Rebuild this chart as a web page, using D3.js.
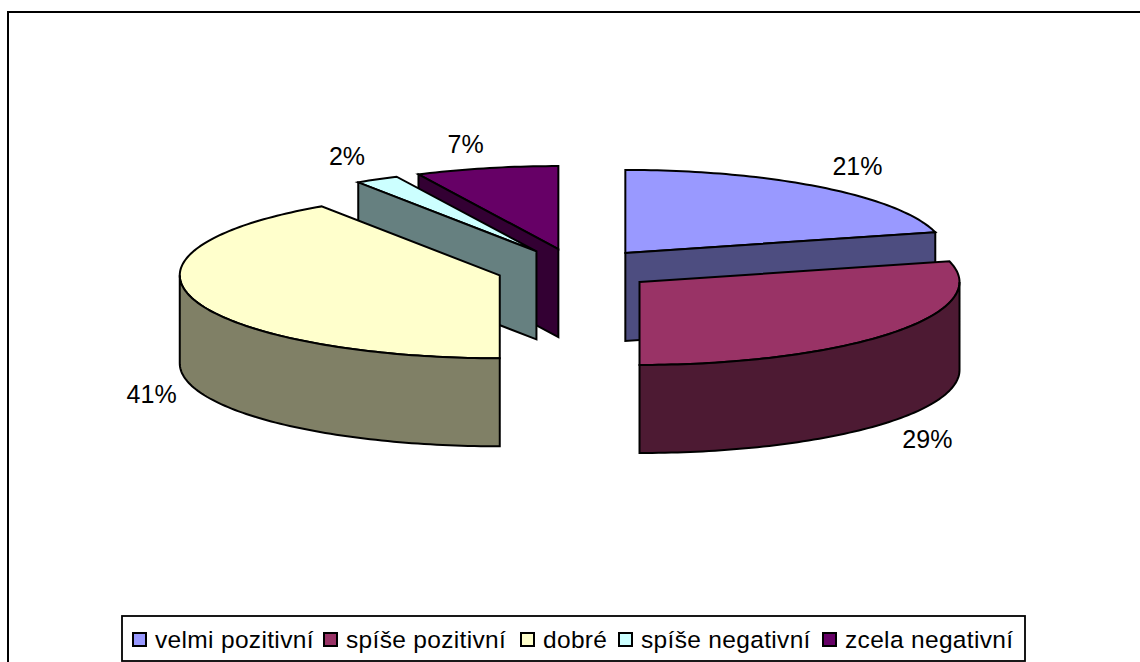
<!DOCTYPE html>
<html>
<head>
<meta charset="utf-8">
<script src="https://cdn.jsdelivr.net/npm/d3@7/dist/d3.min.js"></script>
<style>
html,body{margin:0;padding:0;background:#fff;overflow:hidden}
svg{display:block}
text{font-family:"Liberation Sans",Arial,sans-serif;fill:#000}
</style>
</head>
<body>
<svg id="chart" width="1140" height="662"></svg>
<script>
// Data
const categories = ["velmi pozitivní", "spíše pozitivní", "dobré", "spíše negativní", "zcela negativní"];
const values = [21, 29, 40.6, 2.2, 7.2];
const topColors = ["#9999FF", "#993366", "#FFFFCC", "#CCFFFF", "#660066"];
const sideColors = ["#4D4D80", "#4D1A33", "#808066", "#668080", "#330033"];

// Layout
const W = 1140, H = 662;
const centre = {x: 576.3, y: 269.3};
const rx = 320, ry = 83, depth = 88, explode = 80;
const tilt = ry / rx;
const paintOrder = [4, 3, 2, 0, 1];
const labelOffsets = [[36, -21], [35, 18], [-42, 7], [-30, -23], [-21, -24]];
const legendLeft = [133, 324, 521, 619, 823];

const svg = d3.select("#chart");
// The frame runs off the right and bottom of the picture
svg.append("rect").attr("x", 8).attr("y", 12).attr("width", 1200).attr("height", 700)
  .attr("fill", "#fff").attr("stroke", "#000").attr("stroke-width", 2);

const pie = d3.pie().value(d => d).sort(null);
const arcs = pie(values);

const pt = (c, a, z = 0) => [c.x + rx * Math.sin(a), c.y - ry * Math.cos(a) + z];
const line = d3.line();
function arcPts(c, a0, a1, z = 0) {
  const n = Math.max(2, Math.ceil((a1 - a0) / 0.02));
  return d3.range(n + 1).map(i => pt(c, a0 + (a1 - a0) * i / n, z));
}

const slices = arcs.map((a, i) => {
  const mid = (a.startAngle + a.endAngle) / 2;
  const c = {x: centre.x + explode * Math.sin(mid), y: centre.y - explode * tilt * Math.cos(mid)};
  return {a, i, mid, c};
});

const PI = Math.PI;
const g = svg.append("g").attr("fill-rule", "nonzero")
  .attr("stroke", "#000").attr("stroke-width", 2).attr("stroke-linejoin", "miter");

paintOrder.forEach(i => {
  const {a, c} = slices[i];
  const side = sideColors[i];
  const cut = ang => [[c.x, c.y], pt(c, ang), pt(c, ang, depth), [c.x, c.y + depth]];
  // top surface
  const top = [[c.x, c.y], ...arcPts(c, a.startAngle, a.endAngle)];
  g.append("path").attr("d", line(top) + "Z").attr("fill", topColors[i]);
  // outer wall, the part that faces the viewer
  const w0 = Math.max(a.startAngle, PI / 2), w1 = Math.min(a.endAngle, 3 * PI / 2);
  if (w1 > w0) {
    const wall = [...arcPts(c, w0, w1), ...arcPts(c, w0, w1, depth).reverse()];
    g.append("path").attr("d", line(wall) + "Z").attr("fill", side);
  }
  // cut faces that face the viewer
  if (Math.sin(a.startAngle) < -1e-6) g.append("path").attr("d", line(cut(a.startAngle)) + "Z").attr("fill", side);
  if (Math.sin(a.endAngle) > 1e-6) g.append("path").attr("d", line(cut(a.endAngle)) + "Z").attr("fill", side);
});

// Percentage labels
slices.forEach(({a, i, mid, c}) => {
  const front = Math.cos(mid) < 0 ? depth : 0;
  const p = pt(c, mid, front);
  svg.append("text")
    .attr("x", p[0] + labelOffsets[i][0]).attr("y", p[1] + labelOffsets[i][1])
    .attr("text-anchor", "middle").attr("dominant-baseline", "central")
    .attr("font-size", 25).text(Math.round(a.data) + "%");
});

// Legend
svg.append("rect").attr("x", 122).attr("y", 616).attr("width", 903).attr("height", 45)
  .attr("fill", "#fff").attr("stroke", "#000").attr("stroke-width", 1.8);
categories.forEach((name, i) => {
  svg.append("rect").attr("x", legendLeft[i]).attr("y", 633).attr("width", 13).attr("height", 13)
    .attr("fill", topColors[i]).attr("stroke", "#000").attr("stroke-width", 2);
  svg.append("text").attr("x", legendLeft[i] + 22).attr("y", 648)
    .attr("font-size", 24.5).attr("letter-spacing", 0.33).text(name);
});
</script>
</body>
</html>
